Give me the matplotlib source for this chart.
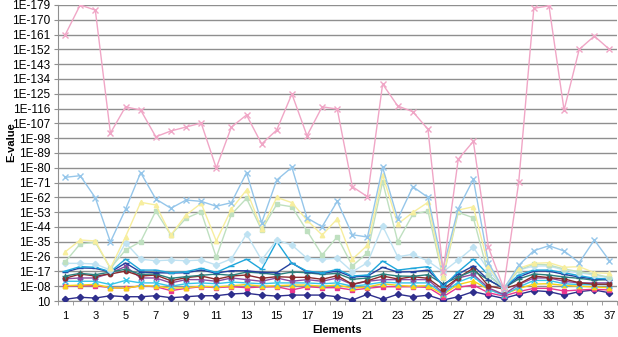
import numpy as np
import matplotlib
matplotlib.use("Agg")
import matplotlib.pyplot as plt
from matplotlib.ticker import FixedLocator

plt.rcParams['font.family'] = ['Liberation Sans', 'DejaVu Sans']

# E-value exponents (value = 10**exp), one list per series, elements 1..37
elements = list(range(1, 38))

navy_diamond = [-0.03, -1.25, -0.8, -2.2, -1.6, -1.6, -2.2, -1.0, -1.6, -2.2, -2.2, -3.3, -3.7,
                -2.6, -2.0, -2.6, -2.6, -2.6, -1.6, 0.4, -3.1, -0.03, -3.1, -1.6, -2.5, 0.4,
                -1.6, -4.7, -2.6, -0.6, -3.1, -5.3, -4.7, -2.6, -4.7, -5.7, -4.0]
magenta_square = [-8.1, -8.3, -8.3, -7.1, -6.7, -8.3, -7.7, -5.3, -6.7, -7.7, -7.1, -7.7, -7.1,
                  -7.5, -7.7, -5.7, -7.7, -7.1, -7.1, -5.7, -6.7, -7.7, -7.7, -7.7, -7.3, -1.6,
                  -7.3, -8.7, -4.0, -2.0, -4.7, -6.7, -6.7, -5.1, -5.7, -6.1, -5.7]
yellow_triangle = [-8.3, -8.7, -9.1, -7.1, -6.7, -8.3, -8.1, -6.7, -7.1, -8.0, -7.5, -8.3, -9.0,
                   -8.0, -8.3, -8.7, -8.7, -8.0, -8.7, -6.8, -7.5, -9.5, -8.5, -8.0, -8.3, -3.0,
                   -9.0, -11.2, -6.0, -3.0, -6.5, -9.3, -9.5, -8.5, -8.0, -7.5, -7.0]
cyan_x = [-11.0, -11.0, -11.0, -9.0, -11.5, -10.0, -10.0, -8.0, -9.5, -10.0, -9.5, -10.5, -10.0,
          -9.5, -10.0, -10.0, -10.0, -9.5, -10.0, -8.0, -9.0, -10.5, -10.0, -10.0, -10.0, -3.5,
          -10.5, -14.0, -6.0, -2.5, -7.5, -11.5, -11.5, -9.5, -9.0, -9.0, -9.0]
purple_star = [-12.5, -13.0, -13.0, -16.0, -20.0, -13.0, -13.0, -10.0, -12.0, -12.0, -11.0, -13.0,
               -12.0, -11.0, -13.0, -11.0, -12.0, -11.0, -13.0, -9.0, -11.0, -12.0, -12.0, -12.0,
               -12.0, -4.0, -13.0, -15.2, -7.0, -3.0, -9.0, -13.0, -13.0, -11.0, -10.0, -10.0, -10.0]
maroon_circle = [-12.8, -15.4, -14.2, -15.4, -17.2, -14.2, -14.8, -11.3, -13.2, -14.2, -12.2, -14.2,
                 -14.8, -12.8, -13.8, -13.4, -13.4, -12.2, -14.4, -9.2, -11.3, -14.2, -12.4, -13.8,
                 -12.8, -6.1, -13.2, -18.9, -8.1, -6.3, -9.3, -14.2, -13.2, -12.4, -10.1, -9.2, -9.2]
teal_plus = [-14.2, -15.8, -15.0, -16.6, -18.3, -15.2, -15.4, -12.8, -13.8, -14.6, -15.4, -14.6,
             -16.6, -16.0, -15.0, -16.6, -16.2, -15.2, -15.8, -12.2, -13.0, -15.4, -14.2, -14.0,
             -15.0, -9.3, -13.6, -17.4, -11.8, -6.7, -12.4, -15.4, -14.8, -13.6, -12.8, -11.6, -12.2]
blue_dash = [-16.6, -19.1, -18.9, -16.6, -22.1, -16.6, -16.2, -16.0, -16.2, -17.8, -16.0, -17.4,
             -17.4, -16.4, -16.2, -22.1, -16.6, -15.8, -17.2, -13.6, -14.2, -19.5, -16.6, -16.8,
             -17.8, -8.7, -15.4, -20.3, -11.8, -6.9, -13.6, -17.2, -17.2, -15.2, -13.6, -12.4, -11.8]
sky_dash = [-17.2, -19.9, -19.5, -16.8, -24.5, -17.8, -17.8, -16.2, -16.8, -18.9, -16.4, -20.5,
            -24.4, -18.2, -35.1, -21.9, -17.2, -16.2, -18.2, -14.2, -14.8, -23.3, -17.8, -18.9,
            -19.9, -7.7, -16.8, -24.5, -14.8, -6.9, -14.8, -17.8, -17.8, -16.2, -14.4, -12.8, -12.4]
pale_blue_diamond = [-21.9, -21.9, -21.5, -17.8, -34.4, -24.4, -23.5, -23.9, -23.5, -23.9, -20.9,
                     -24.7, -39.7, -23.9, -36.1, -33.0, -25.0, -24.4, -25.0, -16.8, -22.3, -44.6,
                     -25.9, -27.4, -23.3, -16.8, -23.9, -31.6, -17.8, -6.9, -17.8, -20.3, -20.3,
                     -17.8, -16.2, -14.8, -12.8]
pale_green_square = [-22.7, -33.7, -34.7, -18.9, -30.0, -35.1, -53.7, -39.1, -49.3, -53.3, -25.6,
                     -51.7, -61.4, -42.2, -57.8, -56.3, -41.7, -27.0, -38.1, -20.3, -28.4, -71.5,
                     -35.1, -51.7, -53.7, -12.8, -52.9, -49.6, -14.8, -6.9, -17.8, -21.5, -20.9,
                     -18.5, -16.8, -15.4, -13.4]
pale_yellow_triangle = [-28.8, -36.1, -35.5, -18.9, -38.1, -59.0, -57.4, -39.1, -51.3, -58.4, -35.5,
                        -54.9, -66.5, -42.8, -62.0, -58.8, -48.2, -39.1, -48.9, -24.4, -33.0, -75.6,
                        -45.8, -52.9, -59.0, -13.8, -54.3, -56.3, -20.3, -6.7, -18.9, -21.9, -22.3,
                        -19.5, -19.9, -16.2, -15.8]
light_blue_x = [-74.2, -75.2, -61.8, -34.9, -54.8, -77.0, -61.0, -55.4, -60.4, -59.6, -56.6, -58.8,
                -77.0, -46.6, -72.6, -80.3, -49.5, -44.2, -59.6, -39.3, -37.9, -80.3, -48.9, -68.5,
                -62.0, -19.0, -55.1, -73.0, -22.3, -6.1, -20.7, -29.6, -32.6, -29.4, -22.3, -36.1,
                -23.5]
pink_x = [-160.7, -179.0, -175.9, -101.1, -117.1, -115.1, -98.9, -102.4, -104.8, -107.2, -79.9,
          -104.8, -112.1, -94.5, -103.0, -124.9, -99.5, -117.1, -115.7, -68.5, -62.4, -130.9,
          -117.6, -114.1, -103.4, -16.8, -85.2, -96.1, -31.6, -6.9, -71.2, -177.0, -178.5, -115.1,
          -152.0, -160.1, -152.0]

series = [
    (navy_diamond, '#2e2e8c', 'D'),
    (magenta_square, '#e8378f', 's'),
    (yellow_triangle, '#f7d217', '^'),
    (cyan_x, '#36c5e8', 'x'),
    (purple_star, '#8c4a9e', (6, 2, 0)),
    (maroon_circle, '#8a2b2e', 'o'),
    (teal_plus, '#2a7f7c', '+'),
    (blue_dash, '#24409e', '_'),
    (sky_dash, '#1fa6db', '_'),
    (pale_blue_diamond, '#bfe2f2', 'D'),
    (pale_green_square, '#bfe0c0', 's'),
    (pale_yellow_triangle, '#f7ee9e', '^'),
    (light_blue_x, '#95c6ea', 'x'),
    (pink_x, '#f0a6c6', 'x'),
]

fig = plt.figure(figsize=(6.18, 3.37), dpi=100)
ax = fig.add_axes([57.5 / 618, 1 - 301 / 337, (617 - 57.5) / 618, (301 - 5) / 337])

for vals, col, mk in series:
    y = 10.0 ** np.array(vals)
    ms = 3.2 if mk in ('D', 's', 'o', '^') else 4
    ax.plot(elements, y, color=col, lw=1, marker=mk, markersize=ms,
            markeredgewidth=1, zorder=3)

ax.set_yscale('log')
ax.set_ylim(10, 1e-179)
exps = [1 - 9 * k for k in range(21)]
ax.yaxis.set_major_locator(FixedLocator([10.0 ** e for e in exps]))
ax.yaxis.set_minor_locator(FixedLocator([]))
ax.set_yticklabels(['10'] + ['1E-%02d' % (-e) for e in exps[1:]])
ax.grid(axis='y', color='#8f8f8f', lw=1, zorder=0)

ax.set_xlim(0.5, 37.5)
ax.set_xticks(range(1, 38, 2))
ax.set_xticks(np.arange(0.5, 38, 1), minor=True)
ax.tick_params(axis='x', which='major', length=0, labelsize=8, pad=7)
ax.tick_params(axis='x', which='minor', length=3, color='#8f8f8f')
ax.tick_params(axis='y', length=3, color='#8f8f8f', labelsize=8.5, pad=2)

for s in ('top', 'right'):
    ax.spines[s].set_visible(False)
for s in ('left', 'bottom'):
    ax.spines[s].set_color('#8f8f8f')

ax.set_xlabel('Elements', fontsize=8, fontweight='bold', labelpad=3)
fig.text(11 / 618, 1 - 142 / 337, 'E-value', fontsize=8, fontweight='bold',
         rotation=90, ha='center', va='center')

fig.savefig('out.png', dpi=100)
